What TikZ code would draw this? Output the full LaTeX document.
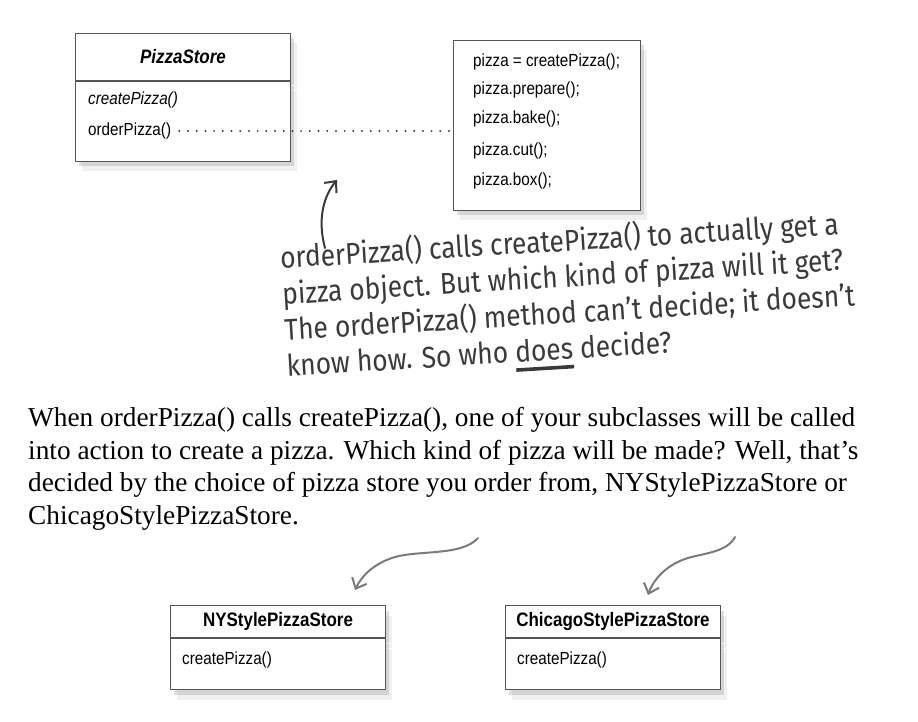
\documentclass[tikz,border=0pt]{standalone}
\usepackage{fontspec}
\setmainfont{Liberation Serif}
\newfontfamily\umlfont[FakeStretch=0.87]{Liberation Sans}
\newfontfamily\handfont[FakeStretch=0.88]{Fira Sans}
\usetikzlibrary{positioning,shadows,arrows.meta}
\definecolor{boxline}{HTML}{555555}
\definecolor{handgray}{HTML}{3A3A3A}
\definecolor{arrowgray}{HTML}{7A7A7A}
\newcommand{\doesul}[1]{\setbox0\hbox{#1}\rlap{\raisebox{-0.32em}{\rule{\wd0}{0.12em}}}\box0\relax}

\begin{document}
\begin{tikzpicture}[x=1pt, y=-1pt]
\tikzstyle{cls}=[draw=boxline, line width=1pt, fill=white, inner sep=0pt,
  drop shadow={shadow xshift=3pt, shadow yshift=-5pt, opacity=0.25},
  drop shadow={shadow xshift=6pt, shadow yshift=-10pt, opacity=0.12}]
\tikzstyle{tx}=[draw=none, fill=none, inner sep=0pt, anchor=west, font=\umlfont\fontsize{17.5}{20}\selectfont]
\tikzstyle{ttl}=[font=\umlfont\bfseries\fontsize{19.5}{22}\selectfont]
\tikzstyle{sketch}=[draw=arrowgray, line width=2pt, line cap=round, -{Straight Barb[length=9pt, width=16pt]}]

\useasboundingbox (0,0) rectangle (918,722);

% the abstract creator
\node[cls, ttl, anchor=north west, minimum width=215pt, minimum height=47pt] (ps) at (75,33) {\itshape PizzaStore};
\node[cls, anchor=north, minimum width=215pt, minimum height=80pt, below=0pt of ps] (psBody) {};
\node[tx] (cp) at (88,100) {\itshape createPizza()};
\node[tx] (op) at (88,131) {orderPizza()};

% what orderPizza() does
\node[cls, anchor=north west, minimum width=187pt, minimum height=170pt] (code) at (453,40) {};
\node[tx] (c1) at (473,62) {pizza = createPizza();};
\node[tx] (c2) at (473,90) {pizza.prepare();};
\node[tx] (c3) at (473,119) {pizza.bake();};
\node[tx] (c4) at (473,151) {pizza.cut();};
\node[tx] (c5) at (473,181) {pizza.box();};

\draw[draw=black!75, line width=2.2pt, line cap=round, dash pattern=on 0pt off 8.7pt, shorten <=8pt] (op.east) -- (code.west |- op.east);

% handwritten note
\coordinate (upTail) at (325,248);
\coordinate (upTip) at (337,180);
\draw[sketch, draw=handgray] (upTail) .. controls (318,222) and (322,198) .. (upTip);
\node[rotate=3.5, anchor=north west, align=left, inner sep=0pt, text=handgray, font=\handfont\fontsize{30}{36}\selectfont] (note) at (279,243)
  {orderPizza() calls createPizza() to actually get a\\
   pizza object. But which kind of pizza will it get?\\
   The orderPizza() method can’t decide; it doesn’t\\
   know how. So who \doesul{does} decide?};

% text
\node[anchor=base west, align=left, inner sep=0pt, font=\fontsize{27.3}{32.5}\selectfont] (para) at (28,524)
  {When orderPizza() calls createPizza(), one of your subclasses will be called\\
   into action to create a pizza. Which kind of pizza will be made? Well, that’s\\
   decided by the choice of pizza store you order from, NYStylePizzaStore or\\
   ChicagoStylePizzaStore.};

% the two subclasses
\node[cls, ttl, anchor=north west, minimum width=215pt, minimum height=32pt] (ny) at (170,605) {NYStylePizzaStore};
\node[cls, anchor=north, minimum width=215pt, minimum height=51pt, below=0pt of ny] (nyBody) {};
\node[tx] (nyCp) at (182,660) {createPizza()};

\node[cls, ttl, anchor=north west, minimum width=215pt, minimum height=32pt] (ch) at (505,605) {ChicagoStylePizzaStore};
\node[cls, anchor=north, minimum width=215pt, minimum height=51pt, below=0pt of ch] (chBody) {};
\node[tx] (chCp) at (517,660) {createPizza()};

\coordinate (nyTail) at (478,538);
\coordinate (nyTip) at (355,590);
\draw[sketch] (nyTail) .. controls (462,556) and (420,550) .. (395,557) .. controls (375,563) and (362,575) .. (nyTip);
\coordinate (chTail) at (735,537);
\coordinate (chTip) at (648,595);
\draw[sketch] (chTail) .. controls (727,552) and (705,553) .. (688,558) .. controls (668,564) and (654,578) .. (chTip);
\end{tikzpicture}
\end{document}
